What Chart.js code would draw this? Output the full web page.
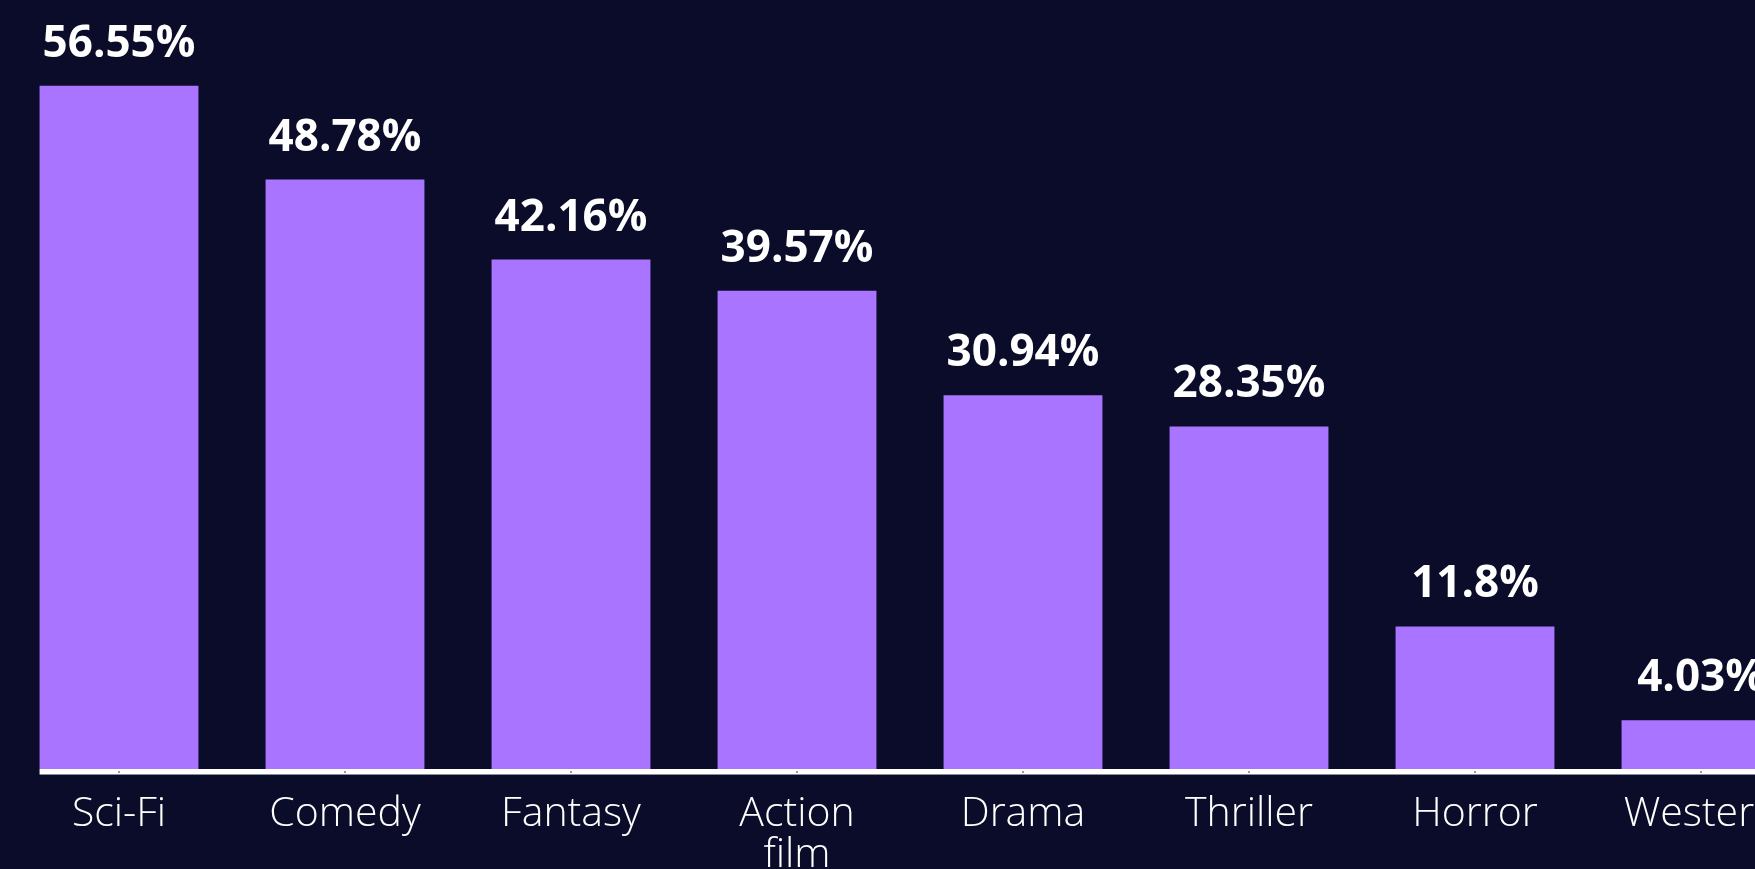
<!DOCTYPE html>
<html>
<head>
<meta charset="utf-8">
<script src="https://cdn.jsdelivr.net/npm/chart.js@4/dist/chart.umd.min.js"></script>
<style>
  html, body { margin: 0; padding: 0; background: #0a0c2a; overflow: hidden; }
  #wrap { width: 1820px; height: 869px; }
</style>
</head>
<body>
<div id="wrap"><canvas id="chart" width="1820" height="869"></canvas></div>
<script>
const categories = ['Sci-Fi', 'Comedy', 'Fantasy', ['Action', 'film'], 'Drama', 'Thriller', 'Horror', 'Western'];
const shares = [56.55, 48.78, 42.16, 39.57, 30.94, 28.35, 11.8, 4.03];
const shareLabels = ['56.55%', '48.78%', '42.16%', '39.57%', '30.94%', '28.35%', '11.8%', '4.03%'];

const BG = '#0a0c2a';
const BAR = '#a974ff';
const FONT = "'Open Sans', 'Noto Sans', sans-serif";

// value labels above bars + white baseline starting at first bar
const barDecor = {
    id: 'barDecor',
    afterDatasetsDraw(chart) {
        const ctx = chart.ctx;
        const meta = chart.getDatasetMeta(0);
        const area = chart.chartArea;
        const xs = chart.scales.x;

        const first = meta.data[0];
        const left = first.x - first.width / 2;
        ctx.save();
        ctx.fillStyle = '#ffffff';
        ctx.fillRect(left, area.bottom, chart.width - left, 5);
        ctx.fillStyle = '#8b8c9c';
        ctx.fillRect(left, area.bottom + 5, chart.width - left, 1);
        ctx.fillStyle = '#9a9aa6';
        xs.ticks.forEach((t, i) => {
            ctx.fillRect(Math.round(xs.getPixelForTick(i)) - 1, area.bottom + 2, 2, 2);
        });

        ctx.fillStyle = '#ffffff';
        ctx.font = '700 44px ' + FONT;
        ctx.textAlign = 'center';
        ctx.textBaseline = 'alphabetic';
        meta.data.forEach((bar, i) => {
            ctx.fillText(shareLabels[i], bar.x, bar.y - 29);
        });
        ctx.restore();
    }
};

new Chart(document.getElementById('chart'), {
    type: 'bar',
    data: {
        labels: categories,
        datasets: [{
            data: shares,
            backgroundColor: BAR,
            borderWidth: 0,
            categoryPercentage: 1,
            barPercentage: 0.703
        }]
    },
    options: {
        responsive: false,
        animation: false,
        layout: { padding: { left: 6, right: 6, top: 44, bottom: 0 } },
        plugins: {
            legend: { display: false },
            tooltip: { enabled: false }
        },
        scales: {
            x: {
                grid: { display: false },
                border: { display: false },
                ticks: {
                    color: '#ffffff',
                    padding: 17,
                    maxRotation: 0,
                    autoSkip: false,
                    font: { family: FONT, size: 41, weight: 300, lineHeight: 1.0 }
                },
                afterFit(scale) { scale.height = 100; }
            },
            y: {
                display: false,
                min: 0,
                max: 60
            }
        }
    },
    plugins: [barDecor]
});
</script>
</body>
</html>
